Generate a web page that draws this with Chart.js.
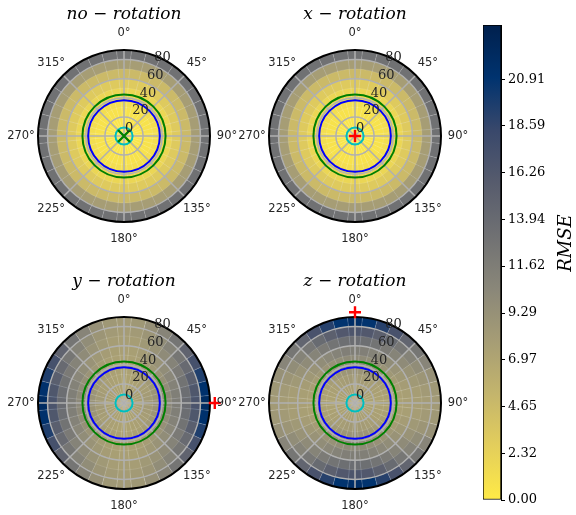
<!DOCTYPE html>
<html><head><meta charset="utf-8">
<script src="https://cdn.jsdelivr.net/npm/chart.js@4.4.1/dist/chart.umd.min.js"></script>
<style>
html,body{margin:0;padding:0;background:#fff;}
#wrap{position:relative;width:576px;height:515px;overflow:hidden;background:#fff;}
canvas{position:absolute;}
</style>
</head><body><div id="wrap">
<canvas id="c0" width="240" height="260" style="left:4px;top:0px"></canvas>
<canvas id="c1" width="240" height="260" style="left:235px;top:0px"></canvas>
<canvas id="c2" width="240" height="260" style="left:4px;top:267px"></canvas>
<canvas id="c3" width="240" height="260" style="left:235px;top:267px"></canvas>
<canvas id="cb" width="116" height="515" style="left:460px;top:0px"></canvas>
</div>
<script>
// ---------- axes / bins ----------
const subplotTitles = ['no \u2212 rotation', 'x \u2212 rotation', 'y \u2212 rotation', 'z \u2212 rotation'];
const angleTickDeg = [0, 45, 90, 135, 180, 225, 270, 315];
const angleTickLabels = ['0°', '45°', '90°', '135°', '180°', '225°', '270°', '315°'];
const radialTicks = [0, 20, 40, 60, 80];
const radialMax = 90;
const radialLabelDeg = 22.5;
const ringEdges = [10, 20, 30, 40, 50, 60, 70, 80, 90];
const sectorCenters = [0,10,20,30,40,50,60,70,80,90,100,110,120,130,140,150,160,170,180,190,200,210,220,230,240,250,260,270,280,290,300,310,320,330,340,350];

// reference circles (radius, same units as radial axis)
const greenCircleR = 43.5;
const blueCircleR = 37.5;
const cyanCircleR = 9;

// best-orientation markers per subplot
const markerType = ['x', '+', '+', '+'];
const markerColor = ['#008000', '#ff0000', '#ff0000', '#ff0000'];
const markerThetaDeg = [0, 0, 90, 0];
const markerR = [0, 0, 95, 95];

// ---------- colour bar ----------
const vmin = 0, vmax = 23.6;
const cbTicks = [0, 2.32, 4.65, 6.97, 9.29, 11.62, 13.94, 16.26, 18.59, 20.91];
const cbTickLabels = ['0.00', '2.32', '4.65', '6.97', '9.29', '11.62', '13.94', '16.26', '18.59', '20.91'];
const cbTitle = 'RMSE';
const cividis = ['#00204D', '#00336F', '#39486B', '#575C6D', '#707173', '#8A8779', '#A69D75', '#C4B56C', '#E4CF5B', '#FFEA46'];

// ---------- RMSE data (rings from inner 0-10 to outer 80-90) ----------
// no / x rotation: no angular variation, one value per ring
const noRotationRMSE = [0.3, 0.5, 0.8, 1.2, 1.9, 3.1, 4.7, 7.9, 13.1];
const xRotationRMSE  = [0.3, 0.5, 0.8, 1.2, 1.9, 3.1, 4.7, 7.9, 13.1];
// y / z rotation: per ring, 36 sectors centred on 0°,10°,...,350°
const yRotationRMSE = [
 [7.3,7.3,7.3,7.3,7.3,7.3,7.4,7.4,7.4,7.4,7.4,7.4,7.4,7.3,7.3,7.3,7.3,7.3,7.3,7.3,7.3,7.3,7.3,7.3,7.4,7.4,7.4,7.4,7.4,7.4,7.4,7.3,7.3,7.3,7.3,7.3],
 [7.3,7.3,7.3,7.4,7.4,7.5,7.6,7.6,7.7,7.7,7.7,7.6,7.6,7.5,7.4,7.4,7.3,7.3,7.3,7.3,7.3,7.4,7.4,7.5,7.6,7.6,7.7,7.7,7.7,7.6,7.6,7.5,7.4,7.4,7.3,7.3],
 [7.3,7.3,7.4,7.5,7.6,7.8,7.9,8.1,8.2,8.3,8.2,8.1,7.9,7.8,7.6,7.5,7.4,7.3,7.3,7.3,7.4,7.5,7.6,7.8,7.9,8.1,8.2,8.3,8.2,8.1,7.9,7.8,7.6,7.5,7.4,7.3],
 [7.3,7.4,7.5,7.7,7.9,8.2,8.5,8.8,9.0,9.1,9.0,8.8,8.5,8.2,7.9,7.7,7.5,7.4,7.3,7.4,7.5,7.7,7.9,8.2,8.5,8.8,9.0,9.1,9.0,8.8,8.5,8.2,7.9,7.7,7.5,7.4],
 [7.4,7.5,7.7,8.0,8.5,8.9,9.4,9.8,10.1,10.2,10.1,9.8,9.4,8.9,8.5,8.0,7.7,7.5,7.4,7.5,7.7,8.0,8.5,8.9,9.4,9.8,10.1,10.2,10.1,9.8,9.4,8.9,8.5,8.0,7.7,7.5],
 [7.6,7.7,8.0,8.5,9.1,9.8,10.5,11.1,11.5,11.7,11.5,11.1,10.5,9.8,9.1,8.5,8.0,7.7,7.6,7.7,8.0,8.5,9.1,9.8,10.5,11.1,11.5,11.7,11.5,11.1,10.5,9.8,9.1,8.5,8.0,7.7],
 [7.8,7.9,8.4,9.1,10.0,11.0,12.0,12.9,13.5,13.8,13.5,12.9,12.0,11.0,10.0,9.1,8.4,7.9,7.8,7.9,8.4,9.1,10.0,11.0,12.0,12.9,13.5,13.8,13.5,12.9,12.0,11.0,10.0,9.1,8.4,7.9],
 [8.0,8.2,8.8,9.8,11.0,12.5,14.0,15.4,16.4,16.8,16.4,15.4,14.0,12.5,11.0,9.8,8.8,8.2,8.0,8.2,8.8,9.8,11.0,12.5,14.0,15.4,16.4,16.8,16.4,15.4,14.0,12.5,11.0,9.8,8.8,8.2],
 [8.2,8.5,9.4,10.8,12.6,14.8,17.2,19.5,21.2,22.0,21.2,19.5,17.2,14.8,12.6,10.8,9.4,8.5,8.2,8.5,9.4,10.8,12.6,14.8,17.2,19.5,21.2,22.0,21.2,19.5,17.2,14.8,12.6,10.8,9.4,8.5]
];
const zRotationRMSE = [
 [7.4,7.4,7.4,7.4,7.3,7.3,7.3,7.3,7.3,7.3,7.3,7.3,7.3,7.3,7.3,7.4,7.4,7.4,7.4,7.4,7.4,7.4,7.3,7.3,7.3,7.3,7.3,7.3,7.3,7.3,7.3,7.3,7.3,7.4,7.4,7.4],
 [7.7,7.7,7.6,7.6,7.5,7.4,7.4,7.3,7.3,7.3,7.3,7.3,7.4,7.4,7.5,7.6,7.6,7.7,7.7,7.7,7.6,7.6,7.5,7.4,7.4,7.3,7.3,7.3,7.3,7.3,7.4,7.4,7.5,7.6,7.6,7.7],
 [8.2,8.2,8.1,7.9,7.8,7.6,7.5,7.4,7.3,7.3,7.3,7.4,7.5,7.6,7.8,7.9,8.1,8.2,8.2,8.2,8.1,7.9,7.8,7.6,7.5,7.4,7.3,7.3,7.3,7.4,7.5,7.6,7.8,7.9,8.1,8.2],
 [9.0,8.9,8.7,8.5,8.2,7.9,7.7,7.5,7.4,7.3,7.4,7.5,7.7,7.9,8.2,8.5,8.7,8.9,9.0,8.9,8.7,8.5,8.2,7.9,7.7,7.5,7.4,7.3,7.4,7.5,7.7,7.9,8.2,8.5,8.7,8.9],
 [10.1,10.0,9.7,9.3,8.9,8.5,8.0,7.7,7.5,7.4,7.5,7.7,8.0,8.5,8.9,9.3,9.7,10.0,10.1,10.0,9.7,9.3,8.9,8.5,8.0,7.7,7.5,7.4,7.5,7.7,8.0,8.5,8.9,9.3,9.7,10.0],
 [11.6,11.4,11.0,10.4,9.8,9.1,8.5,8.0,7.7,7.6,7.7,8.0,8.5,9.1,9.8,10.4,11.0,11.4,11.6,11.4,11.0,10.4,9.8,9.1,8.5,8.0,7.7,7.6,7.7,8.0,8.5,9.1,9.8,10.4,11.0,11.4],
 [13.6,13.4,12.8,11.9,10.9,10.0,9.1,8.4,7.9,7.8,7.9,8.4,9.1,10.0,10.9,11.9,12.8,13.4,13.6,13.4,12.8,11.9,10.9,10.0,9.1,8.4,7.9,7.8,7.9,8.4,9.1,10.0,10.9,11.9,12.8,13.4],
 [16.6,16.2,15.2,13.9,12.4,11.0,9.8,8.8,8.2,8.0,8.2,8.8,9.8,11.0,12.4,13.9,15.2,16.2,16.6,16.2,15.2,13.9,12.4,11.0,9.8,8.8,8.2,8.0,8.2,8.8,9.8,11.0,12.4,13.9,15.2,16.2],
 [21.6,20.9,19.2,17.0,14.6,12.5,10.7,9.3,8.5,8.2,8.5,9.3,10.7,12.5,14.6,17.0,19.2,20.9,21.6,20.9,19.2,17.0,14.6,12.5,10.7,9.3,8.5,8.2,8.5,9.3,10.7,12.5,14.6,17.0,19.2,20.9]
];

// ---------- colour map (cividis reversed: low = yellow, high = navy) ----------
function hexToRgb(h) { const n = parseInt(h.slice(1), 16); return [(n >> 16) & 255, (n >> 8) & 255, n & 255]; }
const cmapRGB = cividis.map(hexToRgb);
function rmseColor(v) {
  let t = 1 - (v - vmin) / (vmax - vmin);
  t = Math.max(0, Math.min(1, t));
  const n = cmapRGB.length, x = t * (n - 1);
  const i = Math.min(n - 2, Math.floor(x)), f = x - i;
  const a = cmapRGB[i], b = cmapRGB[i + 1];
  return 'rgb(' + [0, 1, 2].map(k => Math.round(a[k] + (b[k] - a[k]) * f)).join(',') + ')';
}

function polarPt(s, deg, r) {
  const d = s.getDistanceFromCenterForValue(r);
  const a = deg * Math.PI / 180 - Math.PI / 2;
  return { x: s.xCenter + d * Math.cos(a), y: s.yCenter + d * Math.sin(a) };
}

const decor = {
  id: 'decor',
  afterDatasetsDraw(chart) {
    const s = chart.scales.r, ctx = chart.ctx;
    ctx.save();
    ctx.strokeStyle = '#b0b0b0'; ctx.lineWidth = 1.5;
    angleTickDeg.forEach(d => {
      const p = polarPt(s, d, radialMax);
      ctx.beginPath(); ctx.moveTo(s.xCenter, s.yCenter); ctx.lineTo(p.x, p.y); ctx.stroke();
    });
    ctx.restore();
  },
  afterDraw(chart, args, o) {
    const s = chart.scales.r, ctx = chart.ctx, idx = o.idx;
    ctx.save();
    [[greenCircleR, '#008000'], [blueCircleR, '#0000ff'], [cyanCircleR, '#00bfbf']].forEach(([r, c]) => {
      ctx.beginPath();
      ctx.arc(s.xCenter, s.yCenter, s.getDistanceFromCenterForValue(r), 0, 2 * Math.PI);
      ctx.strokeStyle = c; ctx.lineWidth = 2; ctx.stroke();
    });
    // marker
    const m = polarPt(s, markerThetaDeg[idx], markerR[idx]);
    ctx.strokeStyle = markerColor[idx]; ctx.lineWidth = 2.4; ctx.beginPath();
    const h = 6;
    if (markerType[idx] === '+') {
      ctx.moveTo(m.x - h, m.y); ctx.lineTo(m.x + h, m.y); ctx.moveTo(m.x, m.y - h); ctx.lineTo(m.x, m.y + h);
    } else {
      ctx.moveTo(m.x - h, m.y - h); ctx.lineTo(m.x + h, m.y + h); ctx.moveTo(m.x - h, m.y + h); ctx.lineTo(m.x + h, m.y - h);
    }
    ctx.stroke();
    // radial tick labels
    ctx.font = '13px "DejaVu Serif"'; ctx.fillStyle = '#262626';
    ctx.textAlign = 'left'; ctx.textBaseline = 'bottom';
    radialTicks.forEach(v => { const p = polarPt(s, radialLabelDeg, v); ctx.fillText(String(v), p.x + 1, p.y - 1); });
    // angle labels
    ctx.font = '11.5px "DejaVu Sans"'; ctx.textAlign = 'center'; ctx.textBaseline = 'middle';
    angleTickDeg.forEach((d, i) => {
      const a = d * Math.PI / 180 - Math.PI / 2, dist = s.drawingArea + 17;
      ctx.fillText(angleTickLabels[i], s.xCenter + dist * Math.cos(a), s.yCenter + dist * Math.sin(a));
    });
    // title
    ctx.font = 'italic 17px "DejaVu Serif"'; ctx.textBaseline = 'alphabetic'; ctx.fillStyle = '#000';
    ctx.fillText(subplotTitles[idx], s.xCenter, s.yCenter - 117);
    ctx.restore();
  }
};

function makePolar(id, idx, rows) {
  const datasets = ringEdges.map((edge, k) => ({
    data: sectorCenters.map(() => edge),
    backgroundColor: Array.isArray(rows[k]) ? rows[k].map(rmseColor) : rmseColor(rows[k]),
    borderColor: 'rgba(255,255,255,0.2)',
    borderWidth: 0.6
  }));
  new Chart(document.getElementById(id), {
    type: 'polarArea',
    data: { labels: sectorCenters.map(d => d + '°'), datasets },
    options: {
      responsive: false, animation: false, devicePixelRatio: 1,
      layout: { padding: { left: 34, right: 34, top: 50, bottom: 38 } },
      plugins: { legend: { display: false }, tooltip: { enabled: false }, decor: { idx } },
      scales: {
        r: {
          min: 0, max: radialMax, startAngle: -5,
          ticks: { display: false, stepSize: 20 },
          grid: {
            circular: true, z: 1,
            color: c => (c.tick && c.tick.value === radialMax) ? '#000' : '#b0b0b0',
            lineWidth: c => (c.tick && c.tick.value === radialMax) ? 2 : 1.5
          },
          angleLines: { display: false },
          pointLabels: { display: false }
        }
      }
    },
    plugins: [decor]
  });
}

makePolar('c0', 0, noRotationRMSE);
makePolar('c1', 1, xRotationRMSE);
makePolar('c2', 2, yRotationRMSE);
makePolar('c3', 3, zRotationRMSE);

// ---------- colour bar ----------
const cbTitlePlugin = {
  id: 'cbTitlePlugin',
  afterDraw(chart) {
    const ctx = chart.ctx;
    ctx.save();
    ctx.translate(106, 243);
    ctx.rotate(-Math.PI / 2);
    ctx.font = 'italic 18px "DejaVu Serif"'; ctx.fillStyle = '#000';
    ctx.textAlign = 'center'; ctx.textBaseline = 'middle';
    ctx.fillText(cbTitle, 0, 0);
    ctx.restore();
  }
};
new Chart(document.getElementById('cb'), {
  type: 'bar',
  data: {
    labels: [cbTitle],
    datasets: [{
      data: [[vmin, vmax]],
      backgroundColor: c => {
        const ch = c.chart, y = ch.scales.y;
        if (!ch.chartArea || !y) return '#888';
        const g = ch.ctx.createLinearGradient(0, y.getPixelForValue(vmin), 0, y.getPixelForValue(vmax));
        const n = cividis.length;
        for (let k = 0; k < n; k++) g.addColorStop(k / (n - 1), cividis[n - 1 - k]);
        return g;
      },
      borderColor: '#000', borderWidth: 1, borderSkipped: false,
      barPercentage: 1, categoryPercentage: 1
    }]
  },
  options: {
    responsive: false, animation: false, devicePixelRatio: 1,
    layout: { padding: { left: 23, right: 0, top: 25, bottom: 15 } },
    plugins: { legend: { display: false }, tooltip: { enabled: false } },
    scales: {
      x: { display: false },
      y: {
        position: 'right', min: vmin, max: vmax,
        afterBuildTicks: sc => { sc.ticks = cbTicks.map(v => ({ value: v })); },
        afterFit: sc => { sc.width = 75; },
        ticks: { autoSkip: false, callback: (v, i) => cbTickLabels[i], font: { family: 'DejaVu Serif', size: 13 }, color: '#000', padding: 3 },
        grid: { drawOnChartArea: false, drawTicks: true, tickLength: 4, tickColor: '#000', tickWidth: 1 },
        border: { display: true, color: '#000', width: 1 }
      }
    }
  },
  plugins: [cbTitlePlugin]
});
</script>
</body></html>
